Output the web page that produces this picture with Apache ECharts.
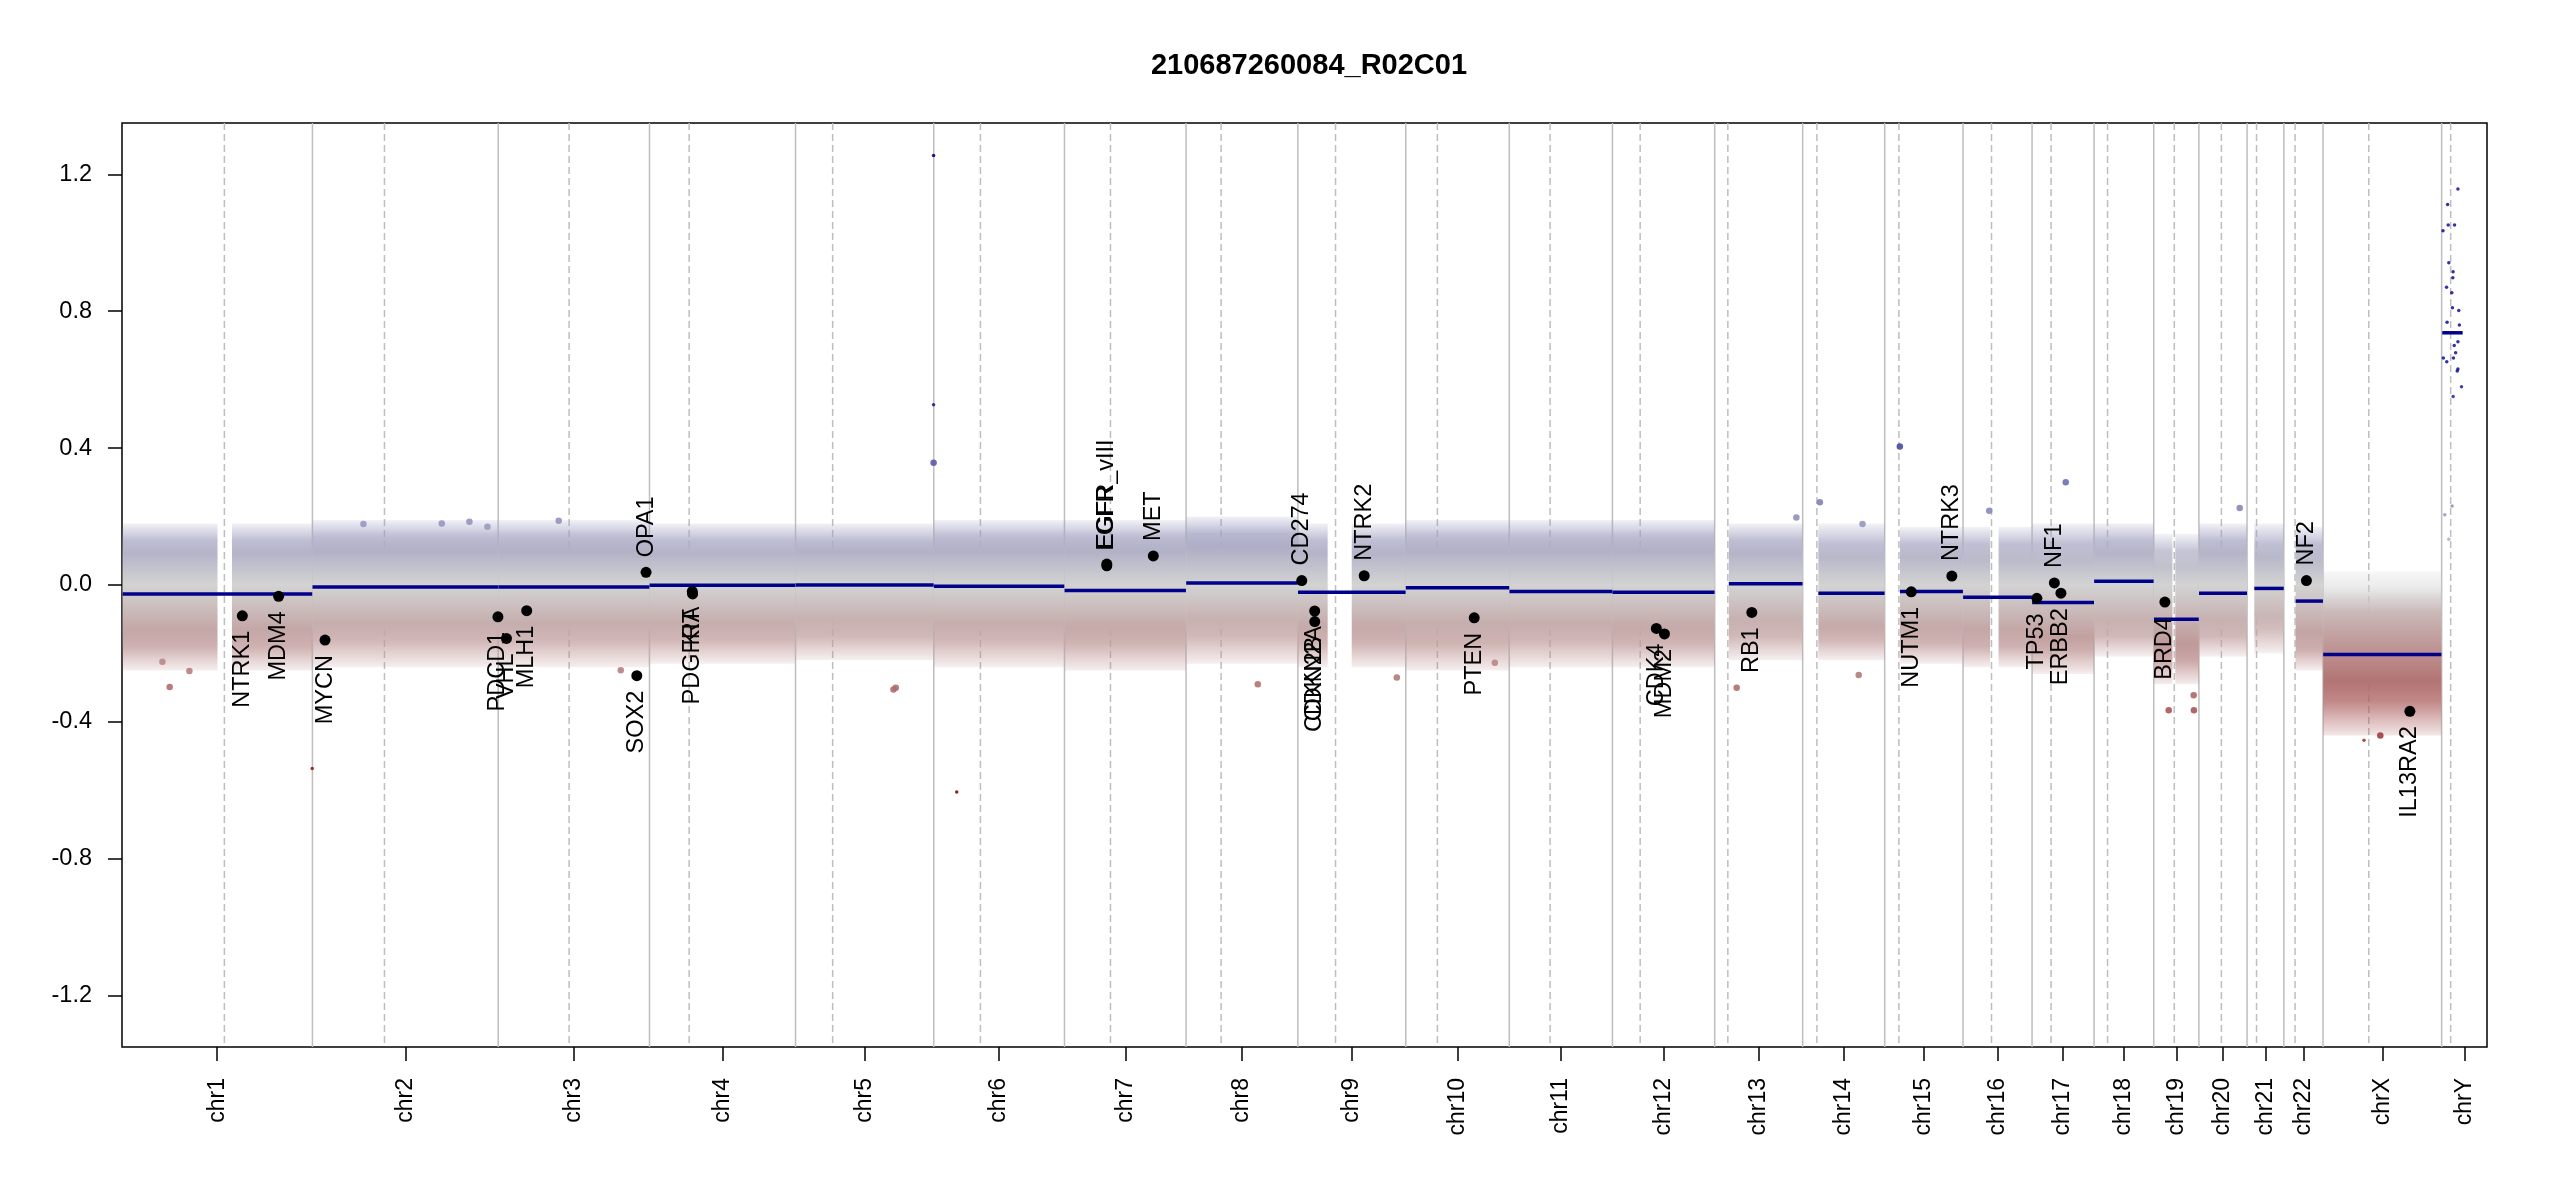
<!DOCTYPE html>
<html>
<head>
<meta charset="utf-8">
<script src="https://cdn.jsdelivr.net/npm/echarts@6/dist/echarts.min.js"></script>
<style>
html,body{margin:0;padding:0;background:#ffffff;}
#chart{width:2550px;height:1200px;}
</style>
</head>
<body>
<div id="chart"></div>
<script>
// ---------------- data ----------------
const chartTitle = '210687260084_R02C01';

const chrNames = ['chr1','chr2','chr3','chr4','chr5','chr6','chr7','chr8','chr9','chr10','chr11','chr12',
  'chr13','chr14','chr15','chr16','chr17','chr18','chr19','chr20','chr21','chr22','chrX','chrY'];
const chrSizesMb = [249.25,243.20,198.02,191.15,180.92,171.12,159.14,146.36,141.21,135.53,135.01,133.85,
  115.17,107.35,102.53,90.35,81.20,78.08,59.13,63.03,48.13,51.30,155.27,59.37];
const centromereMb = [134.0,94.3,92.8,51.9,48.6,61.1,60.2,45.9,49.3,41.4,53.4,36.3,
  17.2,18.6,18.6,37.3,24.9,17.6,26.9,29.4,12.4,14.7,59.9,11.8];

const yTickValues = [-1.2,-0.8,-0.4,0.0,0.4,0.8,1.2];

// regions of the genome that carry bins (chromosome, start Mb, end Mb)
const regionChr     = ['chr1','chr1','chr2','chr3','chr4','chr5','chr6','chr7','chr8','chr9','chr9','chr10','chr11','chr12',
  'chr13','chr14','chr15','chr16','chr16','chr17','chr18','chr19','chr19','chr20','chr21','chr22','chrX'];
const regionStartMb = [0.8,144.0,0.1,0.1,0.1,0.1,0.2,0.1,0.2,0.2,70.5,0.1,0.2,0.1,
  18.5,20.5,20.0,0.1,46.5,0.1,0.1,0.3,28.2,0.1,9.5,15.5,0.2];
const regionEndMb   = [125.0,249.0,242.9,197.9,190.9,180.8,170.9,159.0,146.2,39.0,141.0,135.4,134.9,133.7,
  115.0,107.2,102.4,35.5,90.2,81.1,77.9,24.5,59.0,62.9,48.0,51.2,155.0];

// spread of the bin cloud per chromosome (chr1 .. chrX), log2 ratio
const cloudFringeTop = [0.18,0.19,0.19,0.18,0.18,0.19,0.19,0.20,0.18,0.19,0.19,0.19,0.18,0.18,0.17,0.17,0.18,0.18,0.15,0.18,0.18,0.17,0.04];
const cloudMidTop    = [0.13,0.14,0.14,0.13,0.13,0.14,0.14,0.15,0.13,0.14,0.14,0.14,0.13,0.12,0.12,0.12,0.12,0.13,0.10,0.13,0.12,0.12,-0.04];
const cloudCoreTop   = [0.09,0.10,0.10,0.09,0.10,0.10,0.10,0.11,0.09,0.10,0.10,0.10,0.09,0.08,0.08,0.07,0.07,0.09,0.05,0.09,0.08,0.07,-0.08];
const cloudCoreBot   = [-0.13,-0.11,-0.11,-0.11,-0.10,-0.11,-0.12,-0.10,-0.12,-0.11,-0.11,-0.12,-0.10,-0.12,-0.12,-0.13,-0.15,-0.10,-0.17,-0.10,-0.09,-0.14,-0.28];
const cloudMidBot    = [-0.18,-0.16,-0.16,-0.16,-0.15,-0.16,-0.17,-0.15,-0.17,-0.17,-0.16,-0.17,-0.15,-0.16,-0.17,-0.18,-0.19,-0.15,-0.22,-0.15,-0.13,-0.19,-0.34];
const cloudFringeBot = [-0.25,-0.24,-0.24,-0.23,-0.22,-0.24,-0.25,-0.23,-0.24,-0.25,-0.24,-0.24,-0.22,-0.22,-0.23,-0.24,-0.26,-0.21,-0.29,-0.21,-0.20,-0.25,-0.44];

// segments
const segChr     = ['chr1','chr2','chr3','chr4','chr5','chr6','chr7','chr8','chr9','chr10','chr11','chr12',
  'chr13','chr14','chr15','chr16','chr17','chr18','chr19','chr20','chr21','chr22','chrX','chrY'];
const segStartMb = [0.8,0.1,0.1,0.1,0.1,0.2,0.1,0.2,0.2,0.1,0.2,0.1,18.5,20.5,20.0,0.1,0.1,0.1,0.3,0.1,9.5,15.5,0.2,0.8];
const segEndMb   = [249.0,242.9,197.9,190.9,180.8,170.9,159.0,146.2,141.0,135.4,134.9,133.7,115.0,107.2,102.4,90.2,81.1,77.9,59.0,62.9,48.0,51.2,155.0,27.5];
const segValue   = [-0.026,-0.006,-0.006,-0.001,0.000,-0.004,-0.016,0.006,-0.021,-0.008,-0.019,-0.021,
  0.004,-0.024,-0.019,-0.036,-0.051,0.011,-0.100,-0.024,-0.010,-0.047,-0.203,0.737];

// genes of interest
const geneNames = ['NTRK1','MDM4','MYCN','PDCD1','VHL','MLH1','SOX2','OPA1','PDGFRA','KIT','EGFR','EGFR_vIII','MET',
  'CD274','CDKN2A','CDKN2B','NTRK2','PTEN','CDK4','MDM2','RB1','NUTM1','NTRK3','TP53','NF1','ERBB2','BRD4','NF2','IL13RA2'];
const geneChr   = ['chr1','chr1','chr2','chr2','chr3','chr3','chr3','chr3','chr4','chr4','chr7','chr7','chr7',
  'chr9','chr9','chr9','chr9','chr10','chr12','chr12','chr13','chr15','chr15','chr17','chr17','chr17','chr19','chr22','chrX'];
const genePosMb = [157.5,205.0,16.5,242.8,10.8,37.3,181.4,193.5,56.0,56.4,55.4,55.4,116.3,
  5.1,22.0,22.1,86.8,89.6,57.5,68.1,48.6,34.8,87.9,6.3,29.2,37.8,14.6,29.6,113.7];
const geneValue = [-0.090,-0.033,-0.161,-0.093,-0.156,-0.075,-0.265,0.037,-0.019,-0.026,0.056,0.061,0.085,
  0.013,-0.076,-0.107,0.027,-0.096,-0.127,-0.143,-0.080,-0.020,0.026,-0.039,0.006,-0.024,-0.050,0.013,-0.369];

// isolated bins lying outside the dense cloud
const outChr   = ['chr5','chr5','chr5','chr1','chr6','chr15','chr14','chr16','chr17','chr20','chr14','chr13',
  'chr8','chr9','chr5','chr10','chr14','chr19','chr19','chr19','chr13','chr1','chr1','chr1','chr2','chr2','chr2','chr2',
  'chr3','chr3','chr5','chrX','chrX'];
const outPosMb = [180.7,180.7,180.7,249.0,30.1,19.8,22.5,34.3,44.1,53.4,78.3,106.9,
  93.9,129.5,131.2,116.6,73.3,19.6,52.3,52.6,28.8,88.2,52.9,62.4,66.8,205.5,229.1,169.3,
  79.2,160.4,128.2,53.6,75.0];
const outValue = [1.255,0.527,0.357,-0.536,-0.605,0.405,0.242,0.217,0.300,0.225,0.178,0.197,
  -0.290,-0.270,-0.300,-0.227,-0.263,-0.366,-0.322,-0.366,-0.300,-0.251,-0.224,-0.298,0.178,0.185,0.170,0.180,
  0.188,-0.249,-0.305,-0.454,-0.440];

// chrY bins
const chrYPosMb = [21.3,7.8,8.6,16.9,1.8,9.4,15.0,14.6,6.4,13.3,14.1,22.4,7.1,23.2,21.3,16.5,18.3,2.2,15.4,6.7,21.3,20.4,26.0,15.0,13.7,4.1,9.4];
const chrYValue = [1.157,1.112,1.052,1.052,1.035,0.942,0.915,0.898,0.870,0.854,0.810,0.802,0.768,0.760,0.711,0.700,0.679,0.663,0.663,0.652,0.631,0.625,0.579,0.551,0.231,0.205,0.134];

// ---------------- derived positions ----------------
const chrStart = [];
let acc = 0;
for (const s of chrSizesMb) { chrStart.push(acc); acc += s; }
const genomeLen = acc;
const idxOf = name => chrNames.indexOf(name);
const cum = (chr, pos) => chrStart[idxOf(chr)] + pos;
const chrMid = chrStart.map((s, i) => s + chrSizesMb[i] / 2);

const boundaryData = chrStart.slice(1).map(v => [v]);
const centromereData = centromereMb.map((c, i) => [chrStart[i] + c]);
const bandData = regionChr.map((c, i) => {
  const k = idxOf(c);
  return [cum(c, regionStartMb[i]), cum(c, regionEndMb[i]),
    cloudFringeTop[k], cloudMidTop[k], cloudCoreTop[k], cloudCoreBot[k], cloudMidBot[k], cloudFringeBot[k]];
});
const segData = segChr.map((c, i) => [cum(c, segStartMb[i]), cum(c, segEndMb[i]), segValue[i]]);
const geneData = geneNames.map((g, i) => [cum(geneChr[i], genePosMb[i]), geneValue[i]]);
const outData = outChr.map((c, i) => [cum(c, outPosMb[i]), outValue[i]]);
const chrYData = chrYPosMb.map((p, i) => [cum('chrY', p), chrYValue[i]]);

// ---------------- styling helpers ----------------
const FONT = '"Liberation Sans", Arial, Helvetica, sans-serif';
const RAMP = [[-1.25,[139,0,0]],[-0.625,[139,0,0]],[0,[211,211,211]],[0.625,[0,0,139]],[1.25,[0,0,139]]];
function rampRGB(v) {
  v = Math.max(RAMP[0][0], Math.min(RAMP[4][0], v));
  for (let i = 0; i < 4; i++) {
    const a = RAMP[i], b = RAMP[i + 1];
    if (v >= a[0] && v <= b[0]) {
      const t = (v - a[0]) / (b[0] - a[0]);
      return a[1].map((x, j) => Math.round(x + (b[1][j] - x) * t));
    }
  }
  return [211, 211, 211];
}
const rampColor = (v, a) => 'rgba(' + rampRGB(v).join(',') + ',' + (a === undefined ? 1 : a) + ')';

function renderVLine(dashed) {
  return function (params, api) {
    const x = api.coord([api.value(0), 0])[0];
    const cs = params.coordSys;
    return {
      type: 'line',
      shape: { x1: x, y1: cs.y, x2: x, y2: cs.y + cs.height },
      style: { stroke: '#bebebe', lineWidth: 1.5, lineDash: dashed ? [7, 4] : null }
    };
  };
}

// dense bin cloud: opacity fades toward the fringes, colour follows the value ramp
function renderBand(params, api) {
  const x0 = api.coord([api.value(0), 0])[0];
  const x1 = api.coord([api.value(1), 0])[0];
  const vals = [2, 3, 4, 5, 6, 7].map(i => api.value(i));
  const alphas = [0.12, 0.74, 1.0, 1.0, 0.74, 0.12];
  const py = v => api.coord([0, v])[1];
  const yTop = py(vals[0]), yBot = py(vals[5]);
  const stops = [];
  const push = (v, a) => stops.push({ offset: Math.min(1, Math.max(0, (py(v) - yTop) / (yBot - yTop))), color: rampColor(v, a) });
  push(vals[0], alphas[0]);
  push((vals[0] + vals[1]) / 2, 0.40);
  push(vals[1], alphas[1]);
  push(vals[2], alphas[2]);
  if (vals[2] > 0 && vals[3] < 0) push(0, 1.0);
  push(vals[3], alphas[3]);
  push(vals[4], alphas[4]);
  push((vals[4] + vals[5]) / 2, 0.40);
  push(vals[5], alphas[5]);
  return {
    type: 'rect',
    shape: { x: x0, y: yTop, width: x1 - x0, height: yBot - yTop },
    style: { fill: { type: 'linear', x: 0, y: yTop, x2: 0, y2: yBot, global: true, colorStops: stops } }
  };
}

function renderSeg(params, api) {
  const a = api.coord([api.value(0), api.value(2)]);
  const b = api.coord([api.value(1), api.value(2)]);
  return {
    type: 'line',
    shape: { x1: a[0], y1: a[1], x2: b[0], y2: b[1] },
    style: { stroke: '#00008b', lineWidth: 3.5 }
  };
}

function renderGene(params, api) {
  const i = params.dataIndex;
  const v = api.value(1);
  const p = api.coord([api.value(0), v]);
  const up = v > 0;
  return {
    type: 'group',
    children: [
      { type: 'circle', shape: { cx: p[0], cy: p[1], r: 5.5 }, style: { fill: '#000000' } },
      {
        type: 'text',
        x: p[0], y: up ? p[1] - 15 : p[1] + 15,
        rotation: Math.PI / 2,
        style: {
          text: geneNames[i], x: 0, y: 0,
          fill: '#000000', fontSize: 23.5, fontFamily: FONT,
          align: up ? 'left' : 'right', verticalAlign: 'middle',
          textAlign: up ? 'left' : 'right', textVerticalAlign: 'middle'
        }
      }
    ]
  };
}

// ---------------- chart ----------------
const chart = echarts.init(document.getElementById('chart'), null, { renderer: 'canvas' });
chart.setOption({
  backgroundColor: '#ffffff',
  animation: false,
  title: {
    text: chartTitle,
    left: 1304, top: 46, textAlign: 'center',
    textStyle: { fontSize: 29, fontWeight: 'bold', color: '#000000', fontFamily: FONT }
  },
  grid: { left: 122, right: 63, top: 123, bottom: 153, show: true, borderColor: '#000000', borderWidth: 1.5, backgroundColor: 'transparent' },
  xAxis: {
    type: 'value', min: 0, max: genomeLen, position: 'bottom',
    axisLine: { show: false, onZero: false },
    splitLine: { show: false },
    axisTick: { show: true, customValues: chrMid, length: 14, lineStyle: { color: '#000000', width: 1.5 } },
    axisLabel: {
      customValues: chrMid, rotate: 90, margin: 31,
      fontSize: 23, color: '#000000', fontFamily: FONT,
      formatter: function (v) {
        let best = 0, d = Infinity;
        chrMid.forEach((m, i) => { if (Math.abs(m - v) < d) { d = Math.abs(m - v); best = i; } });
        return chrNames[best];
      }
    }
  },
  yAxis: {
    type: 'value', min: -1.35, max: 1.35, position: 'left',
    axisLine: { show: false, onZero: false },
    splitLine: { show: false },
    axisTick: { show: true, customValues: yTickValues, length: 14, lineStyle: { color: '#000000', width: 1.5 } },
    axisLabel: {
      customValues: yTickValues, margin: 30,
      fontSize: 23.5, color: '#000000', fontFamily: FONT,
      formatter: v => Number(v).toFixed(1)
    }
  },
  series: [
    { type: 'custom', name: 'boundaries', z: 1, silent: true, renderItem: renderVLine(false), data: boundaryData, encode: { x: 0 } },
    { type: 'custom', name: 'centromeres', z: 1, silent: true, renderItem: renderVLine(true), data: centromereData, encode: { x: 0 } },
    { type: 'custom', name: 'bins', z: 2, silent: true, renderItem: renderBand, data: bandData, encode: { x: [0, 1], y: [2, 7] } },
    {
      type: 'scatter', name: 'outliers', z: 3, silent: true, data: outData,
      symbolSize: (val) => Math.abs(val[1]) > 0.45 ? 3.5 : 6.5,
      itemStyle: { color: p => rampColor(p.value[1]), opacity: 0.9 }
    },
    {
      type: 'scatter', name: 'chrY', z: 3, silent: true, symbolSize: 3.5, data: chrYData,
      itemStyle: { color: p => rampColor(p.value[1]) }
    },
    { type: 'custom', name: 'segments', z: 4, silent: true, renderItem: renderSeg, data: segData, encode: { x: [0, 1], y: 2 } },
    { type: 'custom', name: 'genes', z: 5, silent: true, renderItem: renderGene, data: geneData, encode: { x: 0, y: 1 } }
  ]
});
</script>
</body>
</html>
